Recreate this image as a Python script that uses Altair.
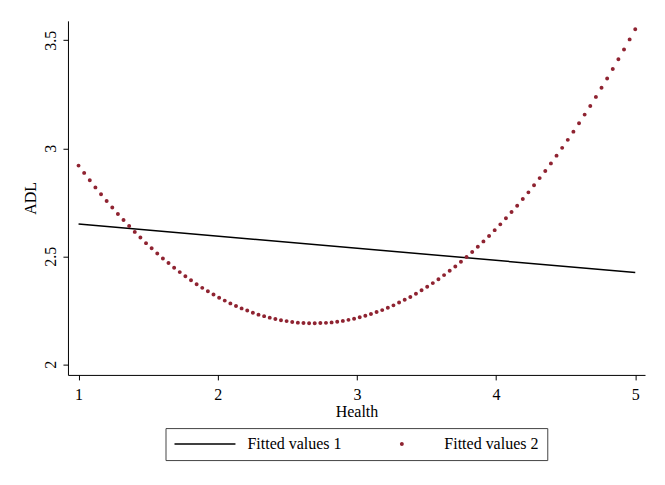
import altair as alt
import numpy as np
import pandas as pd

# ---- data ----
series_names = ["Fitted values 1", "Fitted values 2"]

# linear fit: end points
line_health = [1.0, 5.0]
line_adl = [2.650, 2.425]

# quadratic fit: 100 evenly spaced evaluation points between 1 and 5
quad_health = np.linspace(1, 5, 100)
quad_adl = [
    2.920, 2.886, 2.852, 2.819, 2.787, 2.756, 2.726, 2.696, 2.668, 2.640,
    2.613, 2.587, 2.561, 2.537, 2.513, 2.490, 2.469, 2.447, 2.427, 2.408,
    2.389, 2.371, 2.354, 2.338, 2.323, 2.308, 2.295, 2.282, 2.270, 2.259,
    2.249, 2.239, 2.230, 2.223, 2.216, 2.210, 2.204, 2.200, 2.196, 2.193,
    2.191, 2.190, 2.190, 2.191, 2.192, 2.194, 2.197, 2.201, 2.206, 2.211,
    2.218, 2.225, 2.233, 2.242, 2.251, 2.262, 2.273, 2.286, 2.299, 2.312,
    2.327, 2.343, 2.359, 2.376, 2.394, 2.413, 2.433, 2.453, 2.475, 2.497,
    2.520, 2.544, 2.569, 2.594, 2.621, 2.648, 2.676, 2.705, 2.734, 2.765,
    2.796, 2.829, 2.862, 2.895, 2.930, 2.966, 3.002, 3.039, 3.077, 3.116,
    3.156, 3.196, 3.238, 3.280, 3.323, 3.367, 3.412, 3.457, 3.504, 3.551,
]

x_ticks = [1, 2, 3, 4, 5]
y_ticks = [2, 2.5, 3, 3.5]

line_df = pd.DataFrame({"Health": line_health, "ADL": line_adl})
quad_df = pd.DataFrame({"Health": quad_health, "ADL": quad_adl,
                        "series": series_names[1]})

FONT = "Liberation Serif"
MAROON = "#8f2331"
RECT_PATH = "M-1,-0.0246L1,-0.0246L1,0.0246L-1,0.0246Z"
DOT_PATH = ("M-0.064,0A0.064,0.064,0,1,0,0.064,0"
            "A0.064,0.064,0,1,0,-0.064,0Z")

x_scale = alt.Scale(domain=[0.924, 5.07], nice=False, zero=False)
y_scale = alt.Scale(domain=[1.951, 3.59], nice=False, zero=False)

x_axis = alt.Axis(values=x_ticks, format="~g", title="Health",
                  titleFont=FONT, titleFontSize=16, titleFontWeight="normal",
                  titleColor="black", titleY=37, titleBaseline="middle",
                  labelFont=FONT, labelFontSize=16, labelColor="black",
                  labelPadding=7, tickSize=5, grid=False,
                  domainColor="black", tickColor="black")
y_axis = alt.Axis(values=y_ticks, format="~g", title="ADL",
                  titleFont=FONT, titleFontSize=16, titleFontWeight="normal",
                  titleColor="black", titleAngle=270, titleX=-37,
                  titleBaseline="middle", titleAlign="center",
                  labelFont=FONT, labelFontSize=16, labelColor="black",
                  labelAngle=270, labelAlign="center",
                  labelBaseline="alphabetic", labelPadding=7.5,
                  tickSize=5, grid=False,
                  domainColor="black", tickColor="black")

line = alt.Chart(line_df).mark_line(color="black", strokeWidth=1.5).encode(
    x=alt.X("Health:Q", scale=x_scale, axis=x_axis),
    y=alt.Y("ADL:Q", scale=y_scale, axis=y_axis),
)

dots = alt.Chart(quad_df).mark_point(filled=True, size=3721, opacity=1).encode(
    x=alt.X("Health:Q", scale=x_scale),
    y=alt.Y("ADL:Q", scale=y_scale),
    color=alt.Color("series:N",
                    scale=alt.Scale(domain=series_names,
                                    range=["black", MAROON]),
                    legend=alt.Legend(
                        title=None, orient="none", legendX=97.6, legendY=407.5,
                        direction="horizontal", columns=2, columnPadding=28,
                        symbolSize=3721, clipHeight=16, labelOffset=11,
                        labelFont=FONT, labelFontSize=16, labelColor="black",
                        labelLimit=300, padding=8, strokeColor="#444444",
                        fillColor="white", symbolOpacity=1)),
    shape=alt.Shape("series:N",
                    scale=alt.Scale(domain=series_names,
                                    range=[RECT_PATH, DOT_PATH])),
)

chart = alt.layer(line, dots).properties(
    width=577.4, height=354.3,
    padding={"left": 60, "top": 12.7, "right": 12, "bottom": 95},
    autosize=alt.AutoSizeParams(type="none"),
    background="white",
).configure_view(stroke=None)

chart.save("out.html", embed_options={"renderer": "svg", "actions": False})
